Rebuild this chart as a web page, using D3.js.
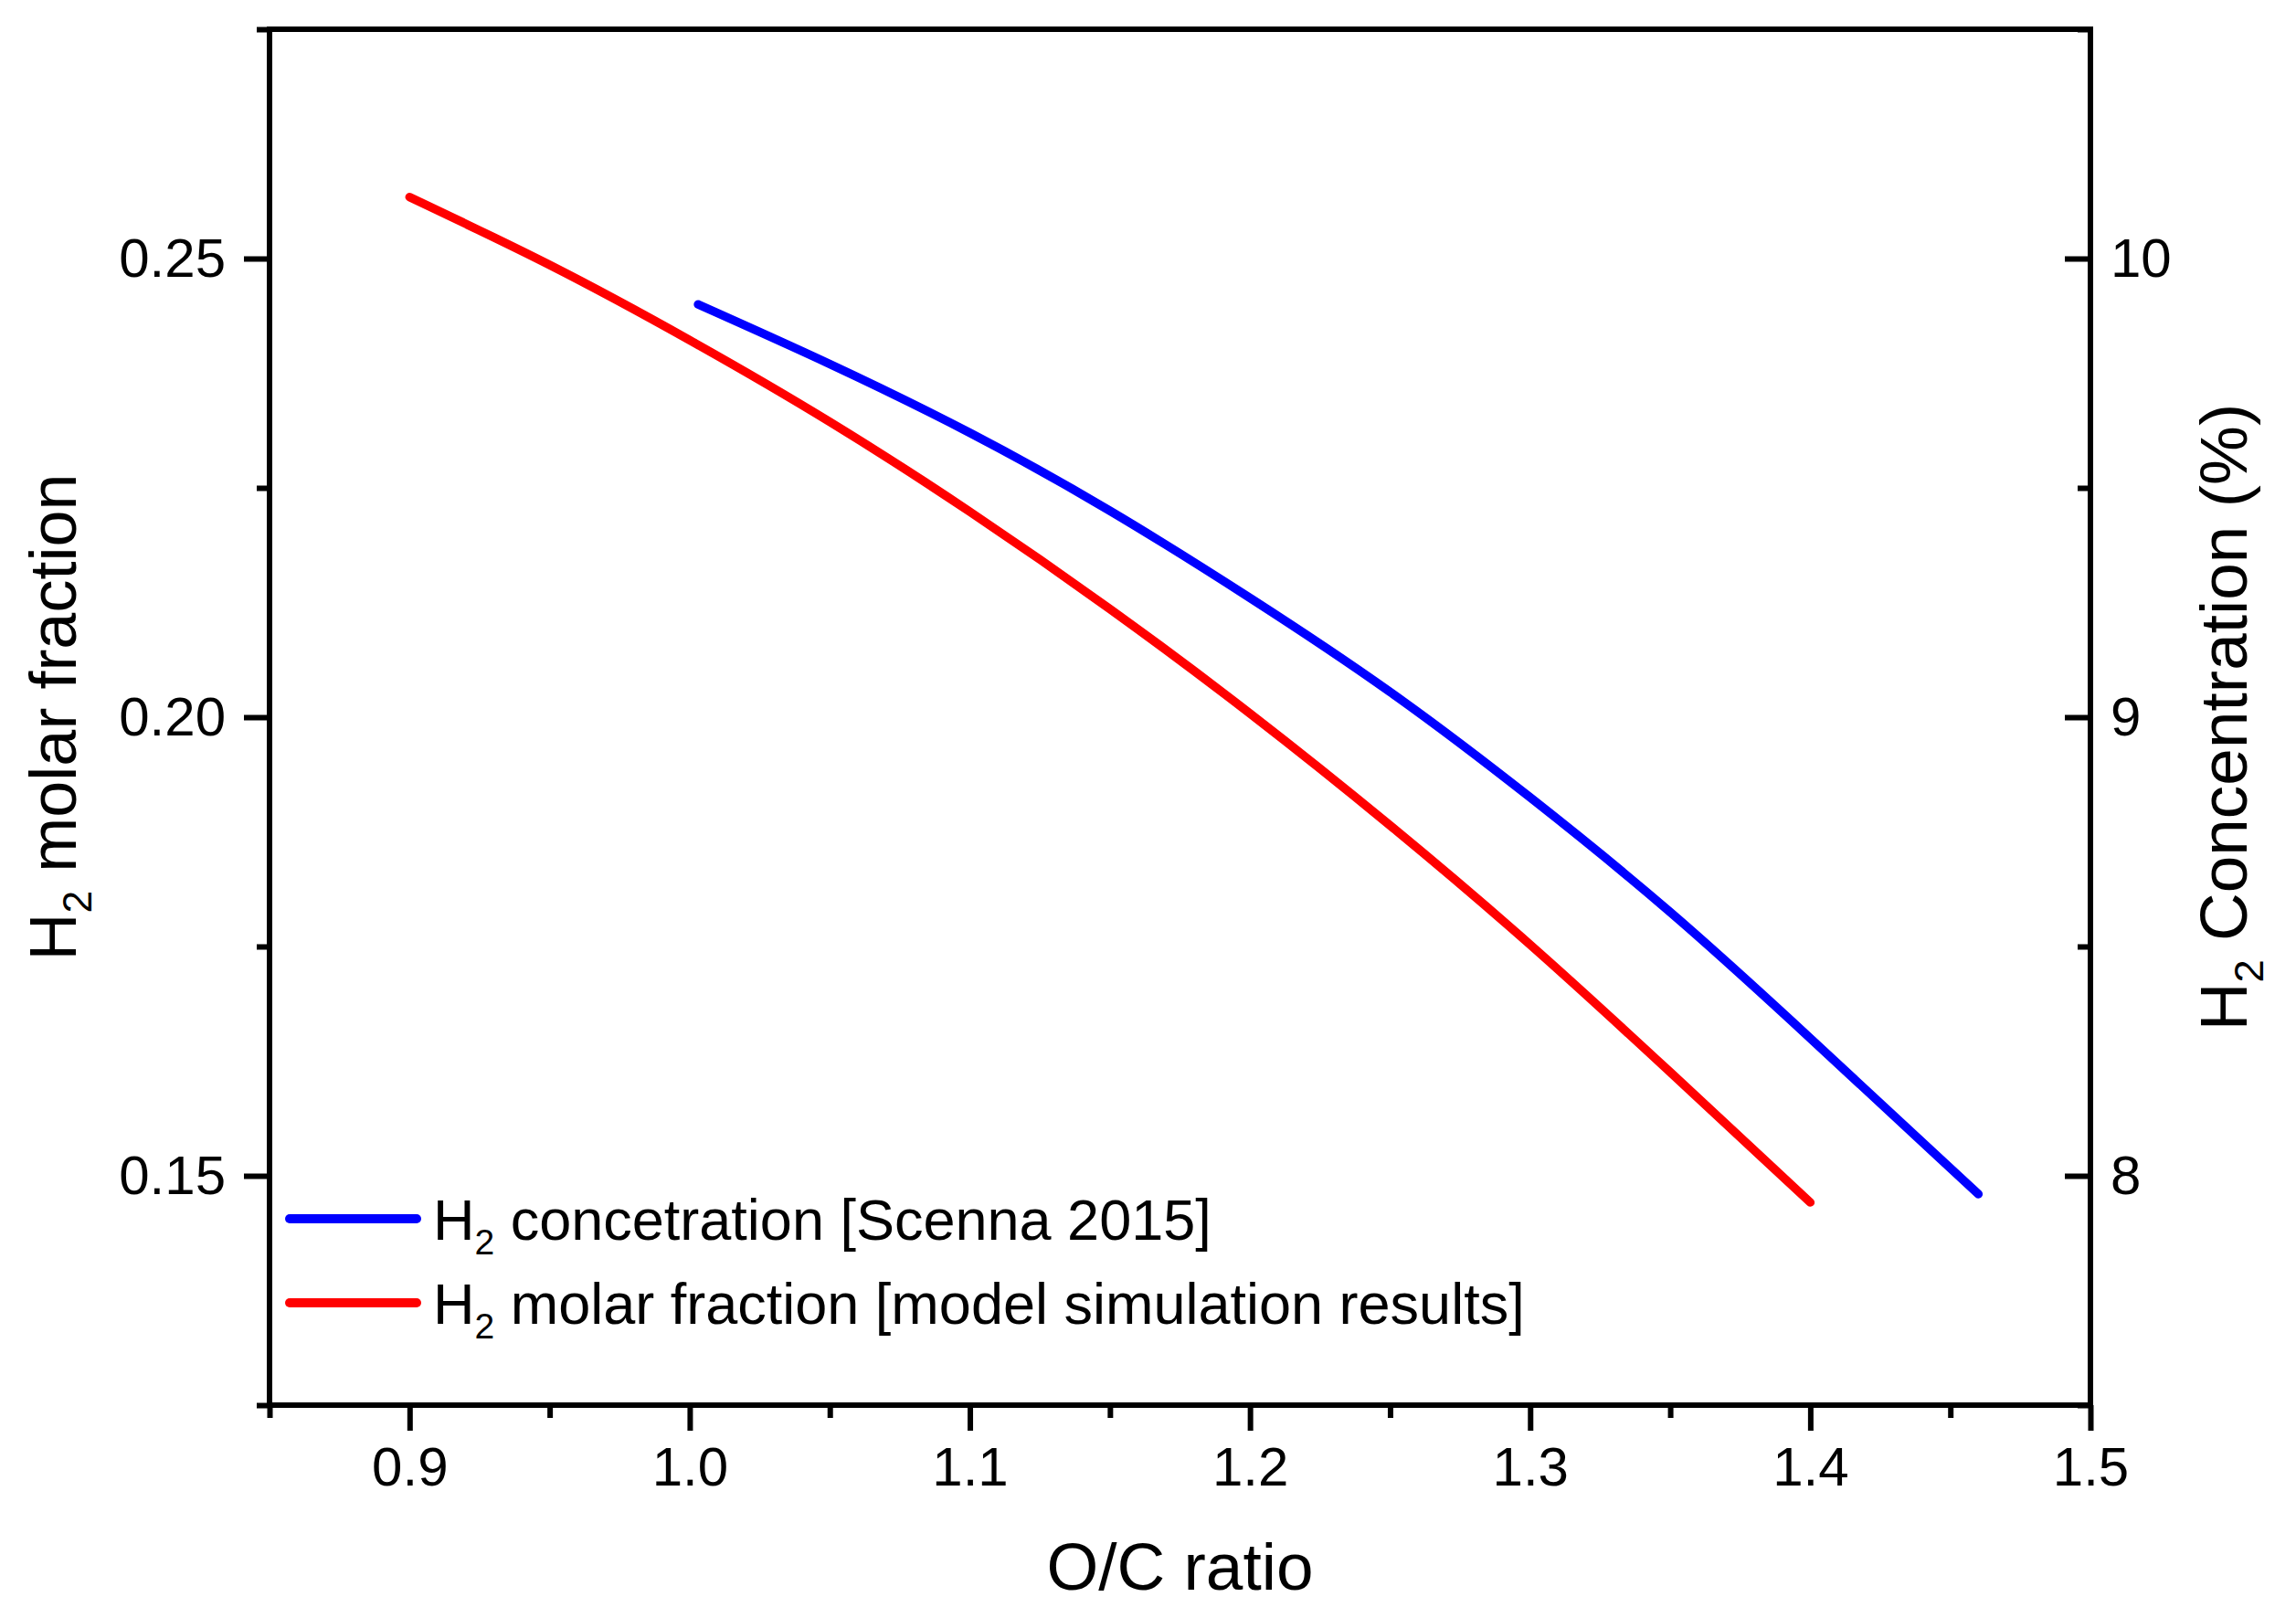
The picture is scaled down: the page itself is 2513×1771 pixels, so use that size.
<!DOCTYPE html>
<html>
<head>
<meta charset="utf-8">
<script src="https://cdn.jsdelivr.net/npm/d3@7/dist/d3.min.js"></script>
<style>
  html, body { margin: 0; padding: 0; background: #fff; }
  svg { display: block; }
  text { font-family: "Liberation Sans", Arial, sans-serif; fill: #000; }
</style>
</head>
<body>
<svg id="chart" width="2513" height="1771"></svg>
<script>
// ---- Data ----
const ocRed = [0.90, 0.95, 1.00, 1.05, 1.10, 1.15, 1.20, 1.25, 1.30, 1.35, 1.40];
const molarRed = [0.2567, 0.2493, 0.2411, 0.2322, 0.2224, 0.2118, 0.2004, 0.1882, 0.1752, 0.1613, 0.1471];

const ocBlue = [1.003, 1.05, 1.10, 1.15, 1.20, 1.25, 1.30, 1.35, 1.40, 1.46];
const concBlue = [9.90, 9.77, 9.62, 9.45, 9.26, 9.055, 8.825, 8.575, 8.30, 7.96];

const xMajor = [0.9, 1.0, 1.1, 1.2, 1.3, 1.4, 1.5];
const xMinor = [0.85, 0.95, 1.05, 1.15, 1.25, 1.35, 1.45];
const yLeftMajor = [0.15, 0.20, 0.25];
const yLeftMinor = [0.125, 0.175, 0.225, 0.275];
const yRightMajor = [8, 9, 10];
const yRightMinor = [7.5, 8.5, 9.5, 10.5];

const legendItems = [
  { main: "H", sub: "2", rest: " concetration [Scenna 2015]", color: "#0000ff" },
  { main: "H", sub: "2", rest: " molar fraction [model simulation results]", color: "#ff0000" }
];

// ---- Layout ----
const svg = d3.select("#chart");
const L = 295, R = 2288, T = 32, B = 1538;
const axisW = 6;
const tickFont = 60;

const x = d3.scaleLinear().domain([0.85, 1.5]).range([L, R]);
const yL = d3.scaleLinear().domain([0.125, 0.275]).range([B, T]);
const yR = d3.scaleLinear().domain([7.5, 10.5]).range([B, T]);

svg.append("rect").attr("width", 2513).attr("height", 1771).attr("fill", "#fff");

function styleAxis(g) {
  g.select(".domain").remove();
  g.selectAll(".tick line").attr("stroke", "#000").attr("stroke-width", axisW);
  g.selectAll(".tick text").style("font-size", tickFont + "px").attr("fill", "#000");
}

// bottom axis
svg.append("g").attr("transform", `translate(0,${B})`)
  .call(d3.axisBottom(x).tickValues(xMajor).tickSizeInner(28).tickSizeOuter(0).tickPadding(17)
        .tickFormat(d3.format(".1f")))
  .call(styleAxis);
svg.append("g").attr("transform", `translate(0,${B})`)
  .call(d3.axisBottom(x).tickValues(xMinor).tickSizeInner(14).tickSizeOuter(0).tickFormat(""))
  .call(styleAxis);

// left axis
svg.append("g").attr("transform", `translate(${L},0)`)
  .call(d3.axisLeft(yL).tickValues(yLeftMajor).tickSizeInner(28).tickSizeOuter(0).tickPadding(20)
        .tickFormat(d3.format(".2f")))
  .call(styleAxis);
svg.append("g").attr("transform", `translate(${L},0)`)
  .call(d3.axisLeft(yL).tickValues(yLeftMinor).tickSizeInner(14).tickSizeOuter(0).tickFormat(""))
  .call(styleAxis);

// right axis (ticks inward)
svg.append("g").attr("transform", `translate(${R},0)`)
  .call(d3.axisRight(yR).tickValues(yRightMajor).tickSizeInner(-28).tickSizeOuter(0).tickPadding(22)
        .tickFormat(d3.format("d")))
  .call(styleAxis);
svg.append("g").attr("transform", `translate(${R},0)`)
  .call(d3.axisRight(yR).tickValues(yRightMinor).tickSizeInner(-14).tickSizeOuter(0).tickFormat(""))
  .call(styleAxis);

// frame
const frame = svg.append("g").attr("stroke", "#000").attr("stroke-width", axisW).attr("stroke-linecap", "square");
frame.append("line").attr("x1", L).attr("x2", R).attr("y1", B).attr("y2", B);
frame.append("line").attr("x1", L).attr("x2", R).attr("y1", T).attr("y2", T);
frame.append("line").attr("x1", L).attr("x2", L).attr("y1", T).attr("y2", B);
frame.append("line").attr("x1", R).attr("x2", R).attr("y1", T).attr("y2", B);

// curves
const lineRed = d3.line().x((d, i) => x(ocRed[i])).y(d => yL(d)).curve(d3.curveNatural);
const lineBlue = d3.line().x((d, i) => x(ocBlue[i])).y(d => yR(d)).curve(d3.curveNatural);

svg.append("path").datum(molarRed).attr("d", lineRed)
  .attr("fill", "none").attr("stroke", "#ff0000").attr("stroke-width", 9.5).attr("stroke-linecap", "round");
svg.append("path").datum(concBlue).attr("d", lineBlue)
  .attr("fill", "none").attr("stroke", "#0000ff").attr("stroke-width", 9.5).attr("stroke-linecap", "round");

// axis titles
function subTitle(g, fs) {
  g.append("tspan").text("H");
  g.append("tspan").text("2").style("font-size", (fs * 0.62) + "px").attr("dy", fs * 0.24);
  return g;
}
svg.append("text").attr("x", (L + R) / 2).attr("y", 1740)
  .attr("text-anchor", "middle").style("font-size", "73px").text("O/C ratio");

const lt = svg.append("text").attr("transform", `translate(83,${(T + B) / 2}) rotate(-90)`)
  .attr("text-anchor", "middle").style("font-size", "72px");
subTitle(lt, 72);
lt.append("tspan").attr("dy", -72 * 0.24).text(" molar fraction");

const rt = svg.append("text").attr("transform", `translate(2459,${(T + B) / 2}) rotate(-90)`)
  .attr("text-anchor", "middle").style("font-size", "73px");
subTitle(rt, 73);
rt.append("tspan").attr("dy", -73 * 0.24).text(" Concentration (%)");

// legend
const legY = [1334, 1426];
legendItems.forEach((it, i) => {
  const g = svg.append("g");
  g.append("line").attr("x1", 317).attr("x2", 456).attr("y1", legY[i]).attr("y2", legY[i])
    .attr("stroke", it.color).attr("stroke-width", 10).attr("stroke-linecap", "round");
  const t = g.append("text").attr("x", 474).attr("y", legY[i] + 23).style("font-size", "63px");
  t.append("tspan").text(it.main);
  t.append("tspan").text(it.sub).style("font-size", (63 * 0.62) + "px").attr("dy", 63 * 0.25);
  t.append("tspan").attr("dy", -63 * 0.25).text(it.rest);
});
</script>
</body>
</html>
